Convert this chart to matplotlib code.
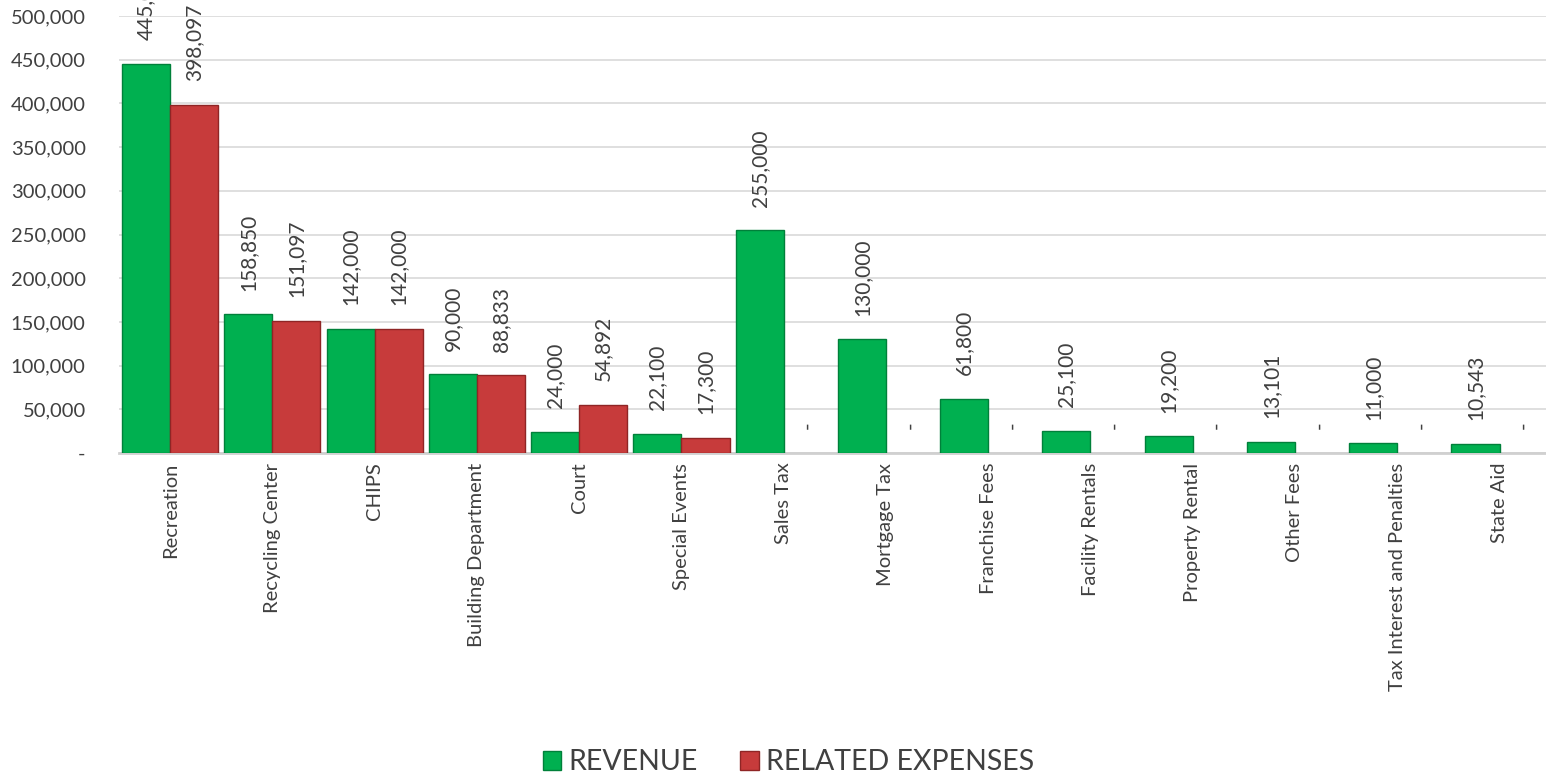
import numpy as np
import matplotlib.pyplot as plt

categories = ['Recreation', 'Recycling Center', 'CHIPS', 'Building Department', 'Court',
              'Special Events', 'Sales Tax', 'Mortgage Tax', 'Franchise Fees',
              'Facility Rentals', 'Property Rental', 'Other Fees',
              'Tax Interest and Penalties', 'State Aid']
revenue = [445000, 158850, 142000, 90000, 24000, 22100, 255000, 130000, 61800,
           25100, 19200, 13101, 11000, 10543]
expenses = [398097, 151097, 142000, 88833, 54892, 17300, 0, 0, 0, 0, 0, 0, 0, 0]
yticks = [0, 50000, 100000, 150000, 200000, 250000, 300000, 350000, 400000, 450000, 500000]

plt.rcParams['font.family'] = ['Lato', 'DejaVu Sans']
txt = '#404040'

fig = plt.figure(figsize=(15.46, 7.82), dpi=100)
ax = fig.add_axes([0.077, 0.4207, 0.926, 0.5588])

x = np.arange(len(categories))
w = 0.47
b1 = ax.bar(x - w/2, revenue, w, color='#00B050', edgecolor='#00803a',
            linewidth=[1.0 if v else 0 for v in revenue], label='REVENUE', zorder=3)
b2 = ax.bar(x + w/2, expenses, w, color='#C73B3B', edgecolor='#8f2525',
            linewidth=[1.0 if v else 0 for v in expenses], label='RELATED EXPENSES', zorder=3)

def fmt(v):
    return '-' if v == 0 else '{:,}'.format(v)

# value labels above each bar, turned upright
for bars, vals in [(b1, revenue), (b2, expenses)]:
    for r, v in zip(bars, vals):
        ax.annotate(fmt(v), (r.get_x() + r.get_width()/2, v), xytext=(0, 17),
                    textcoords='offset points', rotation=90, ha='center', va='bottom',
                    fontsize=15, color=txt, annotation_clip=False)

ax.set_xlim(-0.5, len(categories) - 0.5)
ax.set_ylim(0, 500000)
ax.set_yticks(yticks)
ax.set_yticklabels(['-' if t == 0 else '{:,}'.format(t) for t in yticks])
ax.set_xticks(x)
ax.set_xticklabels(categories, rotation=90)
ax.tick_params(axis='both', length=0, labelsize=14.5, labelcolor=txt)
ax.tick_params(axis='y', pad=24)
ax.tick_params(axis='x', pad=7)
ax.grid(axis='y', color='#D9D9D9', linewidth=1.2, zorder=0)
for s in ['top', 'right', 'left']:
    ax.spines[s].set_visible(False)
ax.spines['bottom'].set_color('#D0D0D0')
ax.spines['bottom'].set_linewidth(2)

fig.legend(handles=[b1, b2], loc='center', bbox_to_anchor=(0.51, 0.025), ncol=2,
           frameon=False, fontsize=20.5, labelcolor=txt, handlelength=0.65,
           handleheight=0.65, handletextpad=0.25, columnspacing=1.5)

fig.savefig('out.png', dpi=100)
